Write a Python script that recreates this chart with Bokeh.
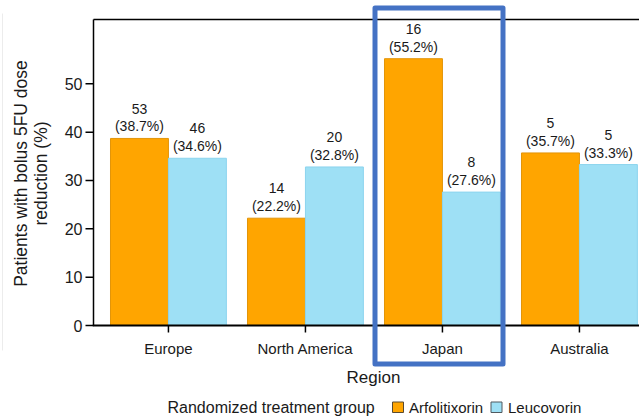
import math
from bokeh.plotting import figure
from bokeh.models import ColumnDataSource, Range1d
from bokeh.core.properties import value
from bokeh.embed import file_html
from bokeh.resources import INLINE

# ---------------- data ----------------
regions = ["Europe", "North America", "Japan", "Australia"]
arfo_pct = [38.7, 22.2, 55.2, 35.7]
leuco_pct = [34.6, 32.8, 27.6, 33.3]
arfo_n = [53, 14, 16, 5]
leuco_n = [46, 20, 8, 5]
y_ticks = [0, 10, 20, 30, 40, 50]
series_names = ["Arfolitixorin", "Leucovorin"]
legend_title = "Randomized treatment group"
x_title = "Region"
y_title = ["Patients with bolus 5FU dose", "reduction (%)"]
highlight = "Japan"

# ---------------- style ----------------
FONT = value("Liberation Sans")
ORANGE, ORANGE_EDGE = "#FFA500", "#E39409"
BLUE, BLUE_EDGE = "#9EE0F5", "#8CD4EE"
TXT = "#1a1a1a"
W, H = 639, 417

# pixel geometry of the axes box (left, top, x=0 baseline)
FX0, FY_TOP, FY0 = 93, 19, 325
PX_PER_CAT = 137.0
PX_PER_UNIT = (325 - 83.33) / 50.0
X_FIRST = -0.547            # data x at the left axis
Y_TOP = (FY0 - FY_TOP) / PX_PER_UNIT


def dx(px):  # pixel column -> data x
    return X_FIRST + (px - FX0) / PX_PER_CAT


def dy(py):  # pixel row -> data y
    return (FY0 - py) / PX_PER_UNIT


p = figure(width=W, height=H, output_backend="svg", toolbar_location=None,
           x_range=Range1d(dx(0), dx(W)), y_range=Range1d(dy(H), dy(0)),
           min_border=0, min_border_left=0, min_border_right=0,
           min_border_top=0, min_border_bottom=0)
p.axis.visible = False
p.grid.visible = False
p.outline_line_color = None
p.background_fill_color = "white"
p.border_fill_color = "white"

idx = list(range(len(regions)))
bw = 0.423
off = bw / 2
src = ColumnDataSource(dict(
    xa=[i - off for i in idx], xl=[i + off for i in idx],
    ya=arfo_pct, yl=leuco_pct,
    la=[f"{n}\n({v:.1f}%)" for n, v in zip(arfo_n, arfo_pct)],
    ll=[f"{n}\n({v:.1f}%)" for n, v in zip(leuco_n, leuco_pct)],
))

# faint scan edge on the far left
p.segment(x0=[dx(2)], y0=[dy(13)], x1=[dx(2)], y1=[dy(350)], line_color="#ececec", line_width=1)

# bars
p.vbar(x="xa", top="ya", bottom=0, width=bw, source=src, fill_color=ORANGE,
       line_color=ORANGE_EDGE, line_width=1)
p.vbar(x="xl", top="yl", bottom=0, width=bw, source=src, fill_color=BLUE,
       line_color=BLUE_EDGE, line_width=1)

# value labels
for xcol, ycol, tcol in (("xa", "ya", "la"), ("xl", "yl", "ll")):
    p.text(x=xcol, y=ycol, text=tcol, source=src, text_align="center", text_baseline="bottom",
           y_offset=-4, text_font=FONT, text_font_size="14px", text_color=TXT,
           text_line_height=1.12)

# axes box: left line, top line, x baseline
x_end = dx(W + 5)
p.segment(x0=[X_FIRST], y0=[0], x1=[X_FIRST], y1=[Y_TOP], line_color="black", line_width=1.5)
p.segment(x0=[X_FIRST], y0=[Y_TOP], x1=[x_end], y1=[Y_TOP], line_color="black", line_width=1.5)
p.segment(x0=[X_FIRST - 0.75 / PX_PER_CAT], y0=[0], x1=[x_end], y1=[0], line_color="black", line_width=2)

# y ticks and labels
p.segment(x0=[X_FIRST - 8 / PX_PER_CAT] * len(y_ticks), y0=y_ticks,
          x1=[X_FIRST] * len(y_ticks), y1=y_ticks, line_color="black", line_width=1.5)
p.text(x=[X_FIRST] * len(y_ticks), y=y_ticks, text=[str(t) for t in y_ticks],
       x_offset=-11, text_align="right", text_baseline="middle",
       text_font=FONT, text_font_size="16px", text_color=TXT)

# x ticks and labels
p.segment(x0=idx, y0=[0] * len(idx), x1=idx, y1=[-7 / PX_PER_UNIT] * len(idx),
          line_color="black", line_width=1.5)
p.text(x=idx, y=[0] * len(idx), text=regions, y_offset=23, text_align="center",
       text_baseline="middle", text_font=FONT, text_font_size="15px", text_color=TXT)

# axis titles
p.text(x=[dx(373)], y=[dy(377)], text=[x_title], text_align="center", text_baseline="middle",
       text_font=FONT, text_font_size="17px", text_color=TXT)
p.text(x=[dx(20), dx(40)], y=[dy(173), dy(173)], text=y_title, angle=math.pi / 2,
       text_align="center", text_baseline="middle", text_font=FONT, text_font_size="17.5px",
       text_color=TXT)

# highlight box around Japan
hi = regions.index(highlight)
p.quad(left=[hi + dx(374.5) - dx(FX0) - (hi - X_FIRST)], right=[hi + dx(502.5) - dx(FX0) - (hi - X_FIRST)],
       top=[dy(7.5)], bottom=[dy(363.5)], fill_color=None, line_color="#4472C4",
       line_width=5, line_join="round")

# legend (drawn by hand, outside the axes box)
p.text(x=[dx(167)], y=[dy(407)], text=[legend_title], text_align="left", text_baseline="middle",
       text_font=FONT, text_font_size="16px", text_color=TXT)
p.quad(left=[dx(392), dx(490.5)], right=[dx(403), dx(501.5)], top=[dy(401.5)] * 2,
       bottom=[dy(412)] * 2, fill_color=[ORANGE, BLUE], line_color=["#5a4a30", "#505a60"],
       line_width=1)
p.text(x=[dx(408.5), dx(507.5)], y=[dy(407)] * 2, text=series_names, text_align="left",
       text_baseline="middle", text_font=FONT, text_font_size="15px", text_color=TXT)

open("out.html", "w").write(file_html(p, INLINE))
